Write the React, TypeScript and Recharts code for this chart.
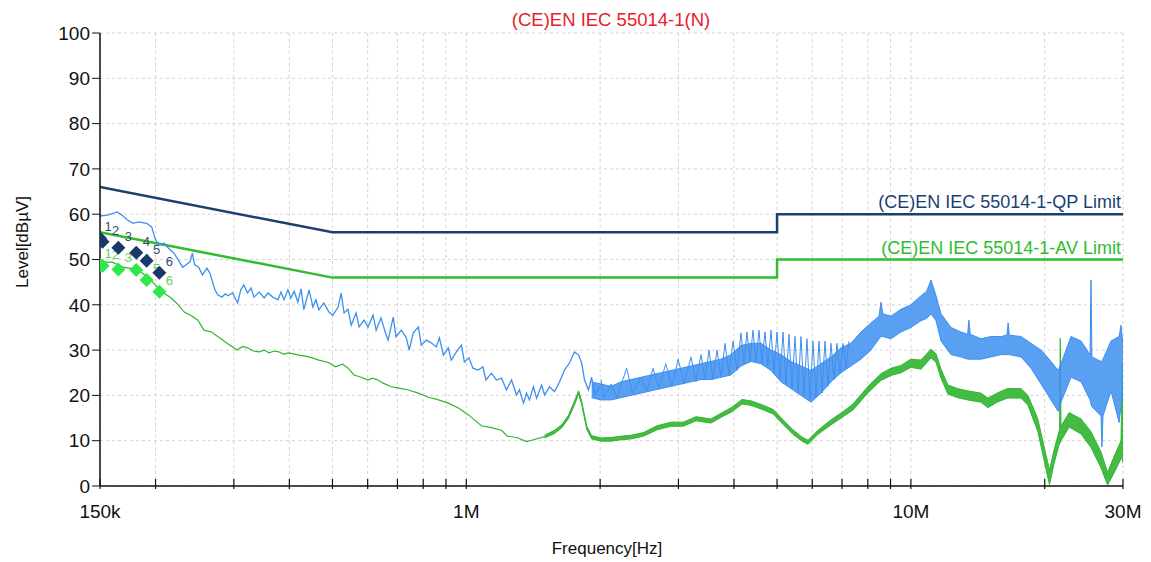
import React from 'react';
import { ComposedChart, Line, Area, Scatter, XAxis, YAxis, CartesianGrid } from 'recharts';

const font = '"Liberation Sans", Arial, sans-serif';

// frequency in MHz, level in dBuV
const freqTicks = [0.15, 0.2, 0.3, 0.4, 0.5, 0.6, 0.7, 0.8, 0.9, 1, 2, 3, 4, 5, 6, 7, 8, 9, 10, 20, 30];
const freqLabels: Record<string, string> = { '0.15': '150k', '1': '1M', '10': '10M', '30': '30M' };
const levelTicks = [0, 10, 20, 30, 40, 50, 60, 70, 80, 90, 100];

const qpLimit = [[0.15, 66], [0.5, 56], [5, 56], [5, 60], [30, 60]];
const avLimit = [[0.15, 56], [0.5, 46], [5, 46], [5, 50], [30, 50]];

// peak trace, low band (single noisy line)
const peakLow = [
  [0.150, 59.6], [0.156, 59.8], [0.164, 60.5], [0.168, 59.8], [0.173, 58.7], [0.178, 58.0], [0.183, 58.3],
  [0.191, 58.0], [0.196, 57.2], [0.199, 55.0], [0.201, 53.9], [0.206, 53.2], [0.209, 53.6], [0.214, 52.5],
  [0.220, 51.4], [0.225, 49.9], [0.230, 48.3], [0.234, 48.8], [0.239, 49.5], [0.242, 51.4], [0.245, 48.8],
  [0.250, 48.3], [0.255, 46.6], [0.261, 48.1], [0.265, 47.0], [0.272, 43.3], [0.276, 42.2], [0.282, 41.7],
  [0.287, 42.4], [0.291, 42.0], [0.298, 42.6], [0.306, 40.4], [0.311, 43.3], [0.316, 44.4], [0.322, 42.6],
  [0.328, 43.7], [0.333, 41.7], [0.342, 42.8], [0.351, 41.5], [0.358, 42.6], [0.367, 41.7], [0.377, 41.1],
  [0.383, 42.8], [0.389, 41.1], [0.397, 43.3], [0.403, 41.5], [0.410, 43.0], [0.418, 40.6], [0.425, 43.5],
  [0.431, 38.9], [0.443, 43.3], [0.452, 39.5], [0.459, 41.1], [0.466, 38.9], [0.478, 40.4], [0.491, 38.4],
  [0.501, 37.7], [0.515, 39.5], [0.523, 42.6], [0.531, 38.2], [0.542, 39.0], [0.551, 35.5], [0.565, 38.2],
  [0.574, 35.1], [0.589, 36.6], [0.601, 35.1], [0.617, 37.7], [0.627, 34.4], [0.643, 37.1], [0.657, 34.0],
  [0.667, 32.2], [0.685, 37.3], [0.695, 32.9], [0.714, 34.4], [0.733, 32.7], [0.744, 30.0], [0.760, 33.8],
  [0.780, 35.1], [0.792, 31.1], [0.813, 32.2], [0.834, 31.6], [0.856, 30.7], [0.870, 32.7], [0.888, 28.9],
  [0.911, 30.5], [0.925, 27.8], [0.950, 29.6], [0.975, 31.1], [0.990, 27.4], [1.014, 28.3], [1.035, 26.0],
  [1.063, 25.6], [1.090, 26.3], [1.107, 23.4], [1.139, 24.9], [1.169, 23.4], [1.200, 23.8], [1.231, 21.2],
  [1.264, 23.4], [1.297, 20.1], [1.317, 21.2], [1.345, 18.3], [1.366, 20.5], [1.387, 19.0], [1.416, 21.9],
  [1.439, 19.4], [1.477, 22.3], [1.500, 20.1], [1.539, 21.9], [1.579, 20.8], [1.621, 23.0], [1.663, 25.6],
  [1.707, 27.2], [1.751, 29.6], [1.789, 28.9], [1.817, 27.2], [1.845, 23.4], [1.883, 21.2], [1.914, 24.0],
  [1.944, 20.1], [1.995, 21.9],
];

// peak trace, high band: [f, low, high]
const peakBand = [
  [1.914, 19.5, 23], [2.009, 19, 22.5], [2.116, 19, 22], [2.228, 19.5, 23], [2.346, 20, 23.5], [2.471, 20.5, 24],
  [2.603, 21, 24.5], [2.741, 21.5, 25], [2.887, 22, 25.5], [3.040, 22.5, 26], [3.202, 23, 26.5], [3.373, 23.5, 27],
  [3.551, 23.5, 27.5], [3.741, 24, 28], [3.939, 24.5, 29], [4.148, 26.5, 31], [4.369, 27.5, 31.5], [4.601, 27, 31.5],
  [4.846, 25.5, 30], [5.104, 23, 29], [5.375, 21.5, 27.5], [5.660, 20, 26.5], [5.962, 18.5, 25.5], [6.279, 20.5, 27],
  [6.612, 23, 28.5], [6.964, 25, 30.5], [7.333, 26.5, 31.5], [7.722, 28, 34], [8.133, 30, 36], [8.48, 32.5, 37.5],
  [8.565, 33, 40.6], [8.65, 33, 38], [9.020, 32.5, 37.5], [9.500, 34, 39], [10.00, 35, 40], [10.54, 36.5, 42],
  [10.85, 37, 43], [11.10, 38, 45.5], [11.39, 36.5, 42], [11.69, 32, 38], [12.31, 29, 35], [12.96, 28.5, 34],
  [13.42, 28, 33.5], [13.50, 28, 36.6], [13.60, 28, 33.5], [14.38, 28, 32.5], [15.14, 28.5, 33], [15.95, 29, 33],
  [16.45, 29, 33.3], [16.55, 29, 36], [16.65, 29, 33.3], [17.69, 28.5, 33], [18.63, 26, 31.5], [19.62, 22.5, 30],
  [20.66, 19, 27.5], [21.44, 16.5, 25.5], [21.76, 18.5, 27], [22.92, 24, 33], [24.14, 23, 32], [25.30, 19, 29],
  [25.42, 18, 45.5], [25.54, 17.5, 28.5], [26.77, 15.5, 27.5], [26.90, 8.6, 27.5], [27.05, 15.5, 28],
  [28.19, 21, 32], [29.40, 14, 33], [29.70, 18, 35.5], [30.0, 20, 31],
];

// comb spikes riding on the peak band
const peakSpikes = [
  [2.009, 23.5], [2.040, 19.5], [2.117, 22.5], [2.183, 19.5], [2.294, 26], [2.366, 20.5], [2.471, 24], [2.549, 21],
  [2.630, 26], [2.713, 21.5], [2.809, 27], [2.901, 22], [2.996, 28], [3.091, 22.5], [3.202, 28.5], [3.286, 23],
  [3.373, 29], [3.443, 23.5], [3.515, 30], [3.589, 23.5], [3.664, 30], [3.741, 24], [3.819, 31.5], [3.899, 24.5],
  [3.981, 32], [4.064, 25.5], [4.148, 33.8], [4.213, 27], [4.279, 34], [4.346, 27.5], [4.414, 34.4], [4.483, 27.5],
  [4.553, 34.4], [4.624, 27], [4.696, 34], [4.770, 26.5], [4.846, 34.4], [4.922, 25], [4.999, 34], [5.077, 23.5],
  [5.157, 34], [5.237, 22.5], [5.319, 33.5], [5.403, 21.5], [5.487, 33], [5.573, 20.5], [5.660, 33], [5.749, 20],
  [5.839, 32.5], [5.930, 19], [6.023, 32], [6.117, 19.5], [6.213, 32], [6.310, 20.5], [6.409, 32], [6.509, 22],
  [6.612, 31.5], [6.715, 23.5], [6.820, 31.5], [6.927, 25], [7.035, 31.5], [7.145, 26], [7.257, 32],
];

// average trace, low band
const avgLow = [
  [0.150, 49.4], [0.160, 49.4], [0.169, 48.3], [0.183, 47.7], [0.195, 45.5], [0.207, 42.8], [0.217, 41.5],
  [0.225, 40.0], [0.232, 38.4], [0.240, 37.7], [0.249, 36.6], [0.257, 34.4], [0.267, 34.0], [0.277, 32.9],
  [0.287, 31.8], [0.298, 30.7], [0.305, 30.0], [0.314, 30.8], [0.322, 30.5], [0.332, 29.8], [0.342, 29.6],
  [0.351, 30.0], [0.360, 29.4], [0.370, 29.8], [0.379, 29.6], [0.388, 29.1], [0.399, 29.4], [0.421, 28.9],
  [0.443, 28.5], [0.466, 27.8], [0.491, 27.2], [0.508, 26.3], [0.527, 26.9], [0.542, 26.0], [0.559, 24.5],
  [0.580, 24.0], [0.601, 23.4], [0.615, 23.8], [0.633, 23.4], [0.650, 22.7], [0.678, 21.9], [0.706, 21.6],
  [0.741, 21.2], [0.780, 20.5], [0.822, 19.6], [0.866, 19.0], [0.911, 18.3], [0.960, 17.2], [1.011, 15.7],
  [1.043, 14.6], [1.081, 13.3], [1.139, 12.9], [1.200, 12.3], [1.237, 11.0], [1.300, 10.7], [1.366, 9.8],
  [1.402, 10.1], [1.500, 10.9],
];

// average trace, high band: [f, low, high]
const avgBand = [
  [1.500, 10.6, 11.2], [1.579, 11.6, 12.3], [1.638, 12.8, 13.5],
  [1.695, 14.8, 15.5], [1.751, 17.9, 18.7], [1.789, 20.3, 21.0], [1.817, 18.1, 18.8], [1.865, 12.6, 13.3],
  [1.914, 10.4, 11.1], [2.009, 9.9, 10.6], [2.116, 9.9, 10.7], [2.228, 10.2, 11.0], [2.346, 10.4, 11.2],
  [2.504, 11, 11.8], [2.686, 12.4, 13.3], [2.887, 13.2, 14.1], [3.078, 13.2, 14.1], [3.286, 14.4, 15.3],
  [3.551, 13.9, 14.8], [3.780, 15.4, 16.3], [3.960, 16.4, 17.4], [4.170, 18.1, 19.1], [4.369, 17.8, 18.8],
  [4.660, 16.8, 17.8], [4.900, 15.9, 16.9], [5.159, 13.6, 14.6], [5.430, 11.4, 12.4], [5.690, 9.9, 10.8],
  [5.870, 9.2, 10.1], [6.180, 11.4, 12.3], [6.612, 13.5, 14.6], [7.035, 15.3, 16.4], [7.41, 16.8, 18.1],
  [8.01, 20.6, 22.0], [8.565, 23.3, 24.8], [9.020, 24.4, 26.0], [9.500, 25, 26.6], [10.00, 26.2, 28],
  [10.54, 25.8, 27.8], [11.10, 28.3, 30.2], [11.39, 27.3, 29.2], [11.69, 23.8, 25.8], [12.11, 20.3, 22.3],
  [12.74, 19.5, 21.5], [13.42, 19, 21], [14.38, 18.5, 20.5], [14.90, 17.3, 19.4], [15.70, 18.6, 20.6],
  [16.50, 19.4, 21.5], [17.69, 19.4, 21.5], [18.34, 17.8, 20], [19.30, 12, 14.8], [19.90, 6, 9],
  [20.50, 0.3, 3.5], [21.00, 5, 8], [21.60, 9.5, 12.5], [21.68, 9.5, 32.6], [21.76, 10, 13.2],
  [22.70, 13, 16.2], [24.14, 11.5, 14.8], [25.42, 8.5, 12], [26.77, 4, 7.5], [27.70, 0.2, 3],
  [28.50, 2.5, 6], [29.69, 6, 10], [29.90, 6, 27], [30.0, 5, 8.5],
];

// final measurement markers: [f, level, number]
const qpMarks = [[0.150, 54.7, '1'], [0.152, 53.9, '2'], [0.165, 52.6, '3'], [0.181, 51.5, '4'], [0.191, 49.7, '5'], [0.204, 47.1, '6']];
const avMarks = [[0.150, 48.8, '1'], [0.152, 48.6, '2'], [0.165, 47.8, '3'], [0.181, 47.7, '4'], [0.191, 45.5, '5'], [0.204, 42.9, '6']];

const QP_COLOR = '#1c3f72';
const AV_COLOR = '#2dbd2d';
const PEAK_COLOR = '#3d8ff0';
const AVG_COLOR = '#30b530';
const INK = '#111';

const toPts = (rows: any[]) => rows.map((r) => ({ f: r[0], v: r[1] }));
const toBand = (rows: any[]) => rows.map((r) => ({ f: r[0], band: [r[1], r[2]] }));
const toMarks = (rows: any[]) => rows.map((r) => ({ f: r[0], v: r[1], n: r[2] }));

function FreqTick(props: any) {
  const { x, y, payload } = props;
  const label = freqLabels[String(payload.value)];
  return (
    <g>
      <line x1={x} x2={x} y1={y - 7} y2={y + 3} stroke={INK} strokeWidth={1.2} />
      {label && (
        <text x={x} y={y + 32} textAnchor="middle" fontSize={19} fill={INK} fontFamily={font}>
          {label}
        </text>
      )}
    </g>
  );
}

function diamond(fill: string, labelColor: string) {
  return (props: any) => {
    const { cx, cy, payload } = props;
    const r = 7;
    // first two markers sit almost on top of each other; spread their numbers
    const dx = payload.n === '1' ? 8 : payload.n === '2' ? 13 : 10;
    return (
      <g>
        <polygon points={`${cx},${cy - r} ${cx + r},${cy} ${cx},${cy + r} ${cx - r},${cy}`} fill={fill} />
        <text x={cx + dx} y={cy - 7} textAnchor="middle" fontSize={13} fill={labelColor} fontFamily={font}>
          {payload.n}
        </text>
      </g>
    );
  };
}

export default function App() {
  return (
    <div style={{ position: 'absolute', left: 0, top: 0, width: 1151, height: 562, background: '#fff' }}>
      <ComposedChart width={1151} height={562} margin={{ top: 33, right: 28, bottom: 0, left: 0 }}>
        <CartesianGrid stroke="#d4d4d4" strokeDasharray="3 3" />
        <XAxis
          dataKey="f"
          type="number"
          scale="log"
          domain={[0.15, 30]}
          ticks={freqTicks}
          interval={0}
          allowDataOverflow
          height={76}
          tickLine={false}
          tickSize={0}
          tickMargin={0}
          tick={<FreqTick />}
          axisLine={{ stroke: INK, strokeWidth: 1.5 }}
        />
        <YAxis
          type="number"
          domain={[0, 100]}
          ticks={levelTicks}
          interval={0}
          width={100}
          tickSize={8}
          tickMargin={2}
          tick={{ fontSize: 19, fill: INK, fontFamily: font }}
          tickLine={{ stroke: INK }}
          axisLine={{ stroke: INK, strokeWidth: 1.5 }}
        />
        <Line data={toPts(qpLimit)} dataKey="v" stroke={QP_COLOR} strokeWidth={2.5} dot={false} isAnimationActive={false} />
        <Line data={toPts(avLimit)} dataKey="v" stroke={AV_COLOR} strokeWidth={2.5} dot={false} isAnimationActive={false} />
        <Area data={toBand(avgBand)} dataKey="band" stroke={AVG_COLOR} strokeWidth={1} fill={AVG_COLOR} fillOpacity={0.9} isAnimationActive={false} />
        <Line data={toPts(avgLow)} dataKey="v" stroke={AVG_COLOR} strokeWidth={1.2} dot={false} isAnimationActive={false} />
        <Area data={toBand(peakBand)} dataKey="band" stroke={PEAK_COLOR} strokeWidth={1} fill={PEAK_COLOR} fillOpacity={0.85} isAnimationActive={false} />
        <Line data={toPts(peakSpikes)} dataKey="v" stroke={PEAK_COLOR} strokeWidth={1} dot={false} isAnimationActive={false} />
        <Line data={toPts(peakLow)} dataKey="v" stroke={PEAK_COLOR} strokeWidth={1.3} dot={false} isAnimationActive={false} />
        <Scatter data={toMarks(avMarks)} dataKey="v" shape={diamond('#2ee84a', '#5fd35f')} isAnimationActive={false} />
        <Scatter data={toMarks(qpMarks)} dataKey="v" shape={diamond('#173a6a', '#3b4a6b')} isAnimationActive={false} />
        <text x={611} y={26} textAnchor="middle" fontSize={18.5} fill="#e8202a" fontFamily={font}>
          (CE)EN IEC 55014-1(N)
        </text>
        <text x={1121} y={208} textAnchor="end" fontSize={18} fill={QP_COLOR} fontFamily={font}>
          (CE)EN IEC 55014-1-QP Limit
        </text>
        <text x={1121} y={254} textAnchor="end" fontSize={18} fill={AV_COLOR} fontFamily={font}>
          (CE)EN IEC 55014-1-AV Limit
        </text>
        <text x={607} y={554} textAnchor="middle" fontSize={17} fill={INK} fontFamily={font}>
          Frequency[Hz]
        </text>
        <text x={28} y={242} textAnchor="middle" fontSize={17} fill={INK} fontFamily={font} transform="rotate(-90 28 242)">
          Level[dBµV]
        </text>
      </ComposedChart>
    </div>
  );
}
